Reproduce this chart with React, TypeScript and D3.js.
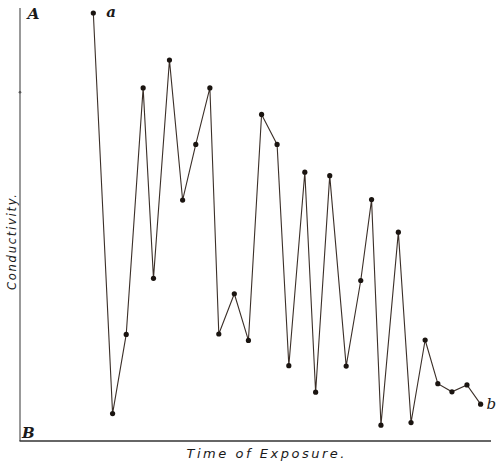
import React from "react";
import * as d3 from "d3";

const times = [15.6, 19.7, 22.6, 26.2, 28.4, 31.8, 34.6, 37.4, 40.4, 42.3, 45.6, 48.6, 51.4, 54.7, 57.2, 60.6, 62.9, 65.9, 69.4, 72.5, 74.8, 76.8, 80.5, 83.2, 86.2, 88.9, 91.9, 95.1, 98.0];
const conductivity = [100, 6.4, 24.9, 82.5, 38.0, 89.0, 56.3, 69.3, 82.5, 25.0, 34.4, 23.5, 76.3, 69.3, 17.6, 62.8, 11.4, 62.0, 17.5, 37.5, 56.4, 3.7, 48.8, 4.3, 23.6, 13.4, 11.5, 13.1, 8.6];
const xTitle = "Time of Exposure.";
const yTitle = "Conductivity.";
const cornerTop = "A";
const cornerBottom = "B";
const startLabel = "a";
const endLabel = "b";

const W = 500;
const H = 463;

export default function App() {
  const x = d3.scaleLinear().domain([0, 100]).range([20, 490]);
  const y = d3.scaleLinear().domain([0, 100]).range([441, 13]);
  const pts = times.map((t, i) => [t, conductivity[i]] as [number, number]);
  const line = d3
    .line<[number, number]>()
    .x((d) => x(d[0]))
    .y((d) => y(d[1]));
  const last = pts[pts.length - 1];
  const first = pts[0];
  return (
    <svg
      width={W}
      height={H}
      style={{ position: "absolute", left: 0, top: 0, background: "#fff" }}
    >
      <line x1={x(0)} y1={8} x2={x(0)} y2={y(0)} stroke="#555" strokeWidth={1.2} />
      <line x1={x(0) - 0.5} y1={y(0)} x2={491} y2={y(0)} stroke="#333" strokeWidth={1.5} />
      <circle cx={x(0)} cy={y(81.5)} r={1.3} fill="#555" />
      <path d={line(pts) || ""} fill="none" stroke="#3b2f28" strokeWidth={1.1} />
      {pts.map((d, i) => (
        <circle key={i} cx={x(d[0])} cy={y(d[1])} r={2.6} fill="#1a1410" />
      ))}
      <text
        x={27.5}
        y={19}
        fontFamily="'DejaVu Serif', 'Liberation Serif', serif"
        fontStyle="italic"
        fontWeight="bold"
        fontSize={15.5}
        fill="#1a1a1a"
      >
        {cornerTop}
      </text>
      <text
        x={22}
        y={437.5}
        fontFamily="'DejaVu Serif', 'Liberation Serif', serif"
        fontStyle="italic"
        fontWeight="bold"
        fontSize={15}
        fill="#1a1a1a"
      >
        {cornerBottom}
      </text>
      <text
        x={x(first[0]) + 13}
        y={y(first[1]) + 4}
        fontFamily="'DejaVu Serif', 'Liberation Serif', serif"
        fontStyle="italic"
        fontWeight="bold"
        fontSize={15}
        fill="#1a1a1a"
      >
        {startLabel}
      </text>
      <text
        x={x(last[0]) + 6}
        y={y(last[1]) + 5}
        fontFamily="'DejaVu Serif', 'Liberation Serif', serif"
        fontStyle="italic"
        fontSize={15}
        fill="#1a1a1a"
      >
        {endLabel}
      </text>
      <text
        x={186.5}
        y={457.5}
        fontFamily="'DejaVu Sans', Verdana, sans-serif"
        fontStyle="italic"
        fontSize={13}
        textLength={158}
        lengthAdjust="spacing"
        fill="#1a1a1a"
      >
        {xTitle}
      </text>
      <text
        transform="translate(15.5,290) rotate(-90)"
        x={0}
        y={0}
        fontFamily="'DejaVu Sans', Verdana, sans-serif"
        fontStyle="italic"
        fontSize={11.5}
        textLength={96}
        lengthAdjust="spacing"
        fill="#1a1a1a"
      >
        {yTitle}
      </text>
    </svg>
  );
}
